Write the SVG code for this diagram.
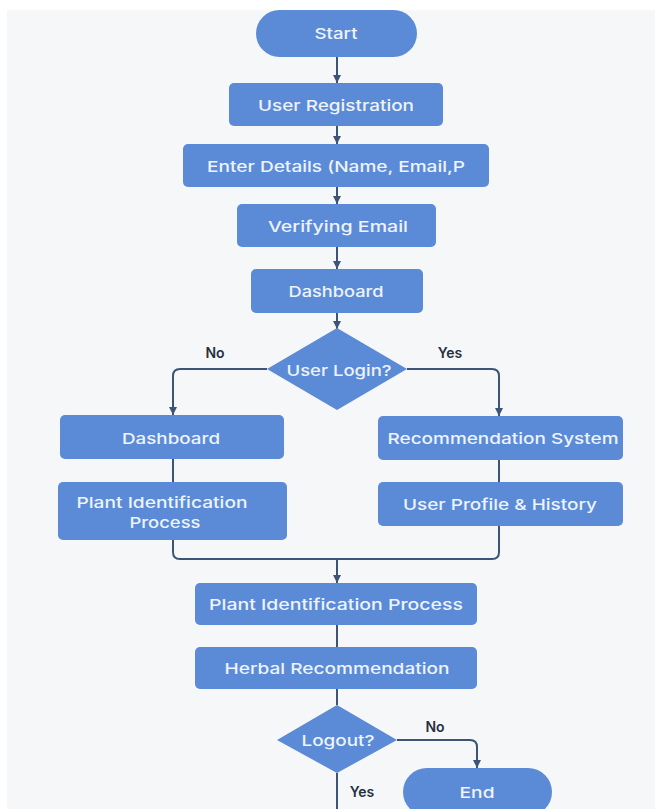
<svg xmlns="http://www.w3.org/2000/svg" width="655" height="809" viewBox="0 0 655 809">
<style>
.box{fill:#5b8bd6;}
.t{font-family:Inter,"Noto Sans","DejaVu Sans",sans-serif;font-size:15px;font-weight:500;fill:#eef3fc;text-anchor:middle;dominant-baseline:central;}
.lbl{font-family:Inter,"Noto Sans","DejaVu Sans",sans-serif;font-size:14px;font-weight:600;fill:#27303f;text-anchor:middle;dominant-baseline:central;}
.c{fill:none;stroke:#3d5477;stroke-width:2;}
</style>
<defs>
<marker id="ah" viewBox="0 0 10 10" refX="10" refY="5" markerWidth="4" markerHeight="4" orient="auto" markerUnits="strokeWidth">
<path d="M0,0 L10,5 L0,10 Z" fill="#3d5477"/>
</marker>
</defs>
<rect x="0" y="0" width="655" height="809" fill="#ffffff"/>
<rect x="7" y="10" width="648" height="799" fill="#f6f7f9"/>

<g id="connectors">
<path class="c" d="M337,57 V83" marker-end="url(#ah)"/>
<path class="c" d="M337,126 V144" marker-end="url(#ah)"/>
<path class="c" d="M337,187 V204" marker-end="url(#ah)"/>
<path class="c" d="M337,247 V269" marker-end="url(#ah)"/>
<path class="c" d="M337,313 V329" marker-end="url(#ah)"/>
<path class="c" d="M267,369 H180 Q173,369 173,376 V415" marker-end="url(#ah)"/>
<path class="c" d="M407,369 H492 Q499,369 499,376 V416" marker-end="url(#ah)"/>
<path class="c" d="M173,459 V482"/>
<path class="c" d="M499,460 V482"/>
<path class="c" d="M173,540 V552 Q173,559 180,559 H492 Q499,559 499,552 V526"/>
<path class="c" d="M337,559 V583" marker-end="url(#ah)"/>
<path class="c" d="M337,625 V647"/>
<path class="c" d="M337,689 V705"/>
<path class="c" d="M397,740 H470 Q477,740 477,747 V768" marker-end="url(#ah)"/>
<path class="c" d="M337,773 V809"/>
</g>

<g id="start">
<rect class="box" x="256" y="10" width="161" height="47" rx="23.5"/>
<text class="t" x="336" y="33" textLength="43" lengthAdjust="spacingAndGlyphs">Start</text>
</g>
<g id="registration">
<rect class="box" x="229" y="83" width="214" height="43" rx="5"/>
<text class="t" x="336" y="105" textLength="156" lengthAdjust="spacingAndGlyphs">User Registration</text>
</g>
<g id="details">
<rect class="box" x="183" y="144" width="306" height="43" rx="5"/>
<text class="t" x="336" y="166" textLength="258" lengthAdjust="spacingAndGlyphs">Enter Details (Name, Email,P</text>
</g>
<g id="verify">
<rect class="box" x="237" y="204" width="199" height="43" rx="5"/>
<text class="t" x="338" y="226" textLength="140" lengthAdjust="spacingAndGlyphs">Verifying Email</text>
</g>
<g id="dashboard1">
<rect class="box" x="251" y="269" width="172" height="44" rx="5"/>
<text class="t" x="336" y="291" textLength="95" lengthAdjust="spacingAndGlyphs">Dashboard</text>
</g>
<g id="login">
<polygon class="box" points="337,328 407,369 337,410 267,369"/>
<text class="t" x="339" y="370" textLength="105" lengthAdjust="spacingAndGlyphs">User Login?</text>
<text class="lbl" x="215" y="352">No</text>
<text class="lbl" x="450" y="352">Yes</text>
</g>
<g id="dashboard2">
<rect class="box" x="60" y="415" width="224" height="44" rx="5"/>
<text class="t" x="171" y="438" textLength="98" lengthAdjust="spacingAndGlyphs">Dashboard</text>
</g>
<g id="plant1">
<rect class="box" x="58" y="482" width="229" height="58" rx="5"/>
<text class="t" x="162" y="502" textLength="171" lengthAdjust="spacingAndGlyphs">Plant Identification</text>
<text class="t" x="165" y="522" textLength="71" lengthAdjust="spacingAndGlyphs">Process</text>
</g>
<g id="recommendation">
<rect class="box" x="378" y="416" width="245" height="44" rx="5"/>
<text class="t" x="503" y="438" textLength="231" lengthAdjust="spacingAndGlyphs">Recommendation System</text>
</g>
<g id="profile">
<rect class="box" x="378" y="482" width="245" height="44" rx="5"/>
<text class="t" x="500" y="504" textLength="194" lengthAdjust="spacingAndGlyphs">User Profile &amp; History</text>
</g>
<g id="plant2">
<rect class="box" x="195" y="583" width="282" height="42" rx="5"/>
<text class="t" x="336" y="604" textLength="254" lengthAdjust="spacingAndGlyphs">Plant Identification Process</text>
</g>
<g id="herbal">
<rect class="box" x="195" y="647" width="282" height="42" rx="5"/>
<text class="t" x="337" y="668" textLength="225" lengthAdjust="spacingAndGlyphs">Herbal Recommendation</text>
</g>
<g id="logout">
<polygon class="box" points="337,705 397,740 337,773 277,740"/>
<text class="t" x="338" y="740" textLength="73" lengthAdjust="spacingAndGlyphs">Logout?</text>
<text class="lbl" x="435" y="726">No</text>
<text class="lbl" x="362" y="791">Yes</text>
</g>
<g id="end">
<rect class="box" x="403" y="768" width="149" height="48" rx="24"/>
<text class="t" x="477" y="792" textLength="35" lengthAdjust="spacingAndGlyphs">End</text>
</g>
</svg>
